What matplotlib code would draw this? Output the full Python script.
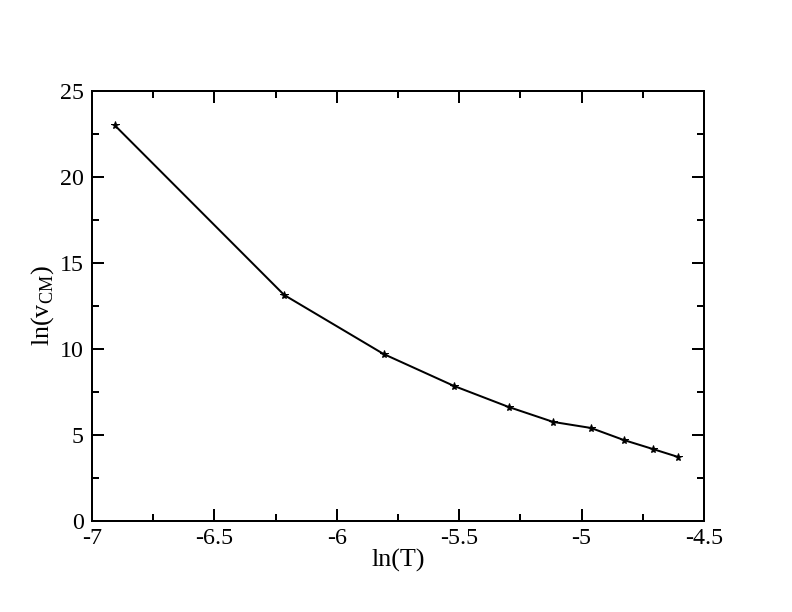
import numpy as np
import matplotlib
matplotlib.use("Agg")
import matplotlib.pyplot as plt
from matplotlib.ticker import MultipleLocator

ln_T = [-6.908, -6.215, -5.809, -5.521, -5.298, -5.116, -4.962, -4.828, -4.710, -4.605]
ln_vcm = [23.02, 13.14, 9.71, 7.85, 6.63, 5.76, 5.41, 4.71, 4.19, 3.72]
x_ticks = [-7, -6.5, -6, -5.5, -5, -4.5]
x_labels = ['-7', '-6.5', '-6', '-5.5', '-5', '-4.5']
y_ticks = [0, 5, 10, 15, 20, 25]
y_labels = ['0', '5', '10', '15', '20', '25']

plt.rcParams['font.family'] = ['Liberation Serif', 'DejaVu Serif']
plt.rcParams['mathtext.fontset'] = 'custom'
plt.rcParams['mathtext.rm'] = 'Liberation Serif'

fig = plt.figure(figsize=(11, 8.5), dpi=72)
ax = fig.add_axes([92/792, 91/612, 612/792, 430/612])
ax.plot(ln_T, ln_vcm, color='black', lw=2, marker='*', ms=8, mfc='black', mec='black')
ax.set_xlim(-7, -4.5)
ax.set_ylim(0, 25)
ax.set_xticks(x_ticks)
ax.set_xticklabels(x_labels)
ax.set_yticks(y_ticks)
ax.set_yticklabels(y_labels)
ax.xaxis.set_minor_locator(MultipleLocator(0.25))
ax.yaxis.set_minor_locator(MultipleLocator(2.5))
ax.tick_params(which='both', direction='in', top=True, right=True, labelsize=24, width=2)
ax.tick_params(which='major', length=12)
ax.tick_params(which='minor', length=7)
ax.tick_params(axis='y', pad=8)
ax.tick_params(axis='x', pad=7)
for s in ax.spines.values():
    s.set_linewidth(2)
ax.set_xlabel('ln(T)', fontsize=26, labelpad=0)
ax.set_ylabel(r'ln(v$_{\mathrm{CM}}$)', fontsize=26, labelpad=4)
fig.savefig('out.png', dpi=72)
